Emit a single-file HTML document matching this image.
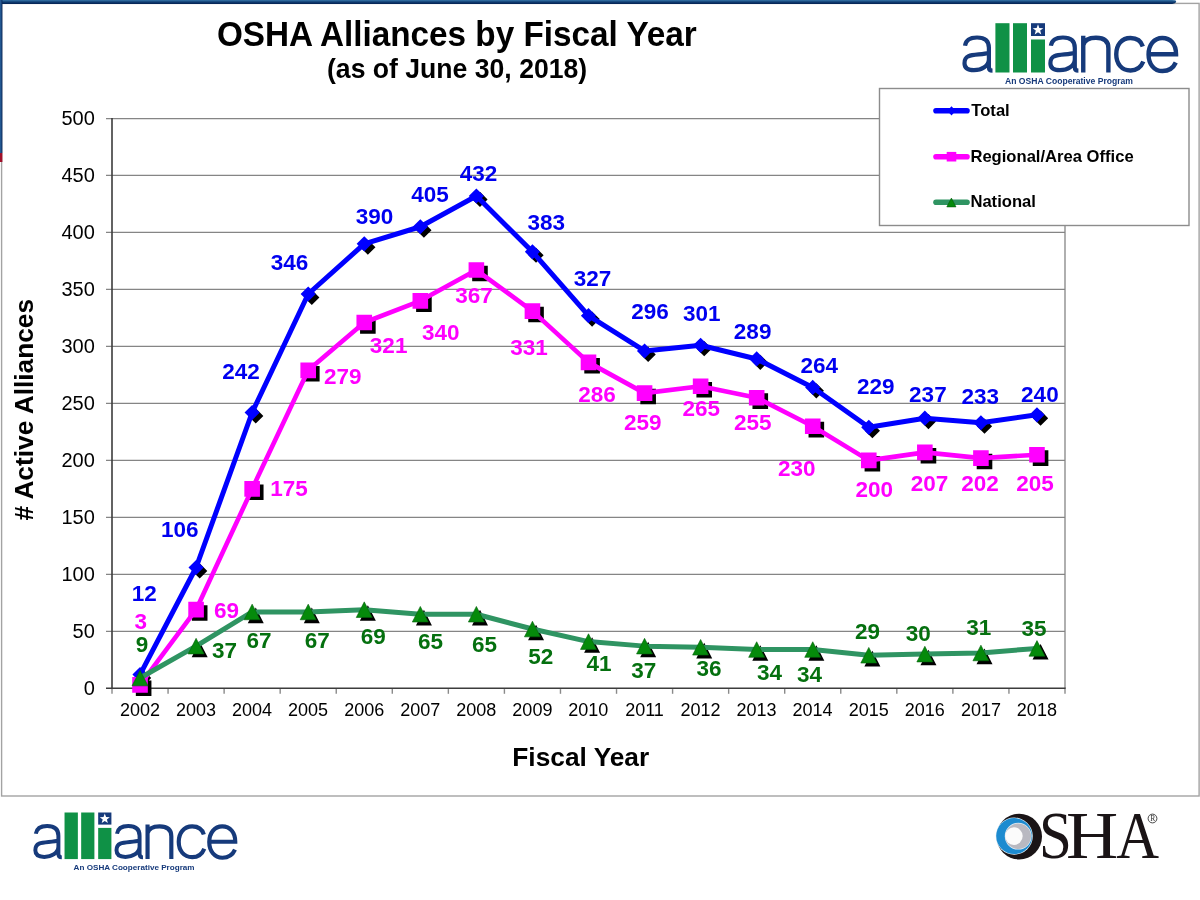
<!DOCTYPE html>
<html><head><meta charset="utf-8"><title>OSHA Alliances by Fiscal Year</title>
<style>html,body{margin:0;padding:0;background:#fff;}body{width:1200px;height:900px;overflow:hidden;font-family:"Liberation Sans",sans-serif;}svg{display:block;will-change:transform;}</style>
</head><body>
<svg width="1200" height="900" viewBox="0 0 1200 900">
<rect width="1200" height="900" fill="#fff"/>
<rect x="1.6" y="3.4" width="1197.5" height="792.6" fill="none" stroke="#a3a3a3" stroke-width="1.4"/>
<defs><linearGradient id="tb" x1="0" y1="0" x2="0" y2="1"><stop offset="0" stop-color="#3877aa"/><stop offset="0.5" stop-color="#0f3d72"/><stop offset="1" stop-color="#04204f"/></linearGradient><linearGradient id="lb" x1="0" y1="0" x2="1" y2="0"><stop offset="0" stop-color="#2a64a0"/><stop offset="1" stop-color="#0b2a5c"/></linearGradient></defs>
<path d="M0,0 H1172 Q1177,0 1176,2 Q1175,4.1 1170,4.1 H0 Z" fill="url(#tb)"/>
<rect x="0" y="0" width="2.4" height="153" fill="url(#lb)"/>
<rect x="0" y="153" width="2.4" height="9" fill="#a0102a"/>
<text transform="translate(216.97,45.9) scale(1,1.05)" font-family="Liberation Sans" font-weight="bold" font-size="33.3" fill="#000">OSHA Alliances by Fiscal Year</text>
<text transform="translate(327.01,78.0) scale(1,1.05)" font-family="Liberation Sans" font-weight="bold" font-size="26.6" fill="#000">(as of June 30, 2018)</text>
<line x1="106" y1="631.32" x2="1065" y2="631.32" stroke="#858585" stroke-width="1.25"/>
<line x1="106" y1="574.34" x2="1065" y2="574.34" stroke="#858585" stroke-width="1.25"/>
<line x1="106" y1="517.36" x2="1065" y2="517.36" stroke="#858585" stroke-width="1.25"/>
<line x1="106" y1="460.38" x2="1065" y2="460.38" stroke="#858585" stroke-width="1.25"/>
<line x1="106" y1="403.4" x2="1065" y2="403.4" stroke="#858585" stroke-width="1.25"/>
<line x1="106" y1="346.42" x2="1065" y2="346.42" stroke="#858585" stroke-width="1.25"/>
<line x1="106" y1="289.44" x2="1065" y2="289.44" stroke="#858585" stroke-width="1.25"/>
<line x1="106" y1="232.46" x2="1065" y2="232.46" stroke="#858585" stroke-width="1.25"/>
<line x1="106" y1="175.48" x2="1065" y2="175.48" stroke="#858585" stroke-width="1.25"/>
<line x1="106" y1="118.5" x2="1065" y2="118.5" stroke="#858585" stroke-width="1.25"/>
<line x1="1065" y1="118.5" x2="1065" y2="688.3" stroke="#858585" stroke-width="1.3"/>
<line x1="112" y1="117.9" x2="112" y2="689.1" stroke="#3c3c3c" stroke-width="1.6"/>
<line x1="106" y1="688.3" x2="1065.75" y2="688.3" stroke="#3c3c3c" stroke-width="1.6"/>
<line x1="112" y1="689.1" x2="112" y2="693.8" stroke="#8a8a8a" stroke-width="1.4"/>
<line x1="168.06" y1="689.1" x2="168.06" y2="693.8" stroke="#8a8a8a" stroke-width="1.4"/>
<line x1="224.12" y1="689.1" x2="224.12" y2="693.8" stroke="#8a8a8a" stroke-width="1.4"/>
<line x1="280.18" y1="689.1" x2="280.18" y2="693.8" stroke="#8a8a8a" stroke-width="1.4"/>
<line x1="336.24" y1="689.1" x2="336.24" y2="693.8" stroke="#8a8a8a" stroke-width="1.4"/>
<line x1="392.29" y1="689.1" x2="392.29" y2="693.8" stroke="#8a8a8a" stroke-width="1.4"/>
<line x1="448.35" y1="689.1" x2="448.35" y2="693.8" stroke="#8a8a8a" stroke-width="1.4"/>
<line x1="504.41" y1="689.1" x2="504.41" y2="693.8" stroke="#8a8a8a" stroke-width="1.4"/>
<line x1="560.47" y1="689.1" x2="560.47" y2="693.8" stroke="#8a8a8a" stroke-width="1.4"/>
<line x1="616.53" y1="689.1" x2="616.53" y2="693.8" stroke="#8a8a8a" stroke-width="1.4"/>
<line x1="672.59" y1="689.1" x2="672.59" y2="693.8" stroke="#8a8a8a" stroke-width="1.4"/>
<line x1="728.65" y1="689.1" x2="728.65" y2="693.8" stroke="#8a8a8a" stroke-width="1.4"/>
<line x1="784.71" y1="689.1" x2="784.71" y2="693.8" stroke="#8a8a8a" stroke-width="1.4"/>
<line x1="840.76" y1="689.1" x2="840.76" y2="693.8" stroke="#8a8a8a" stroke-width="1.4"/>
<line x1="896.82" y1="689.1" x2="896.82" y2="693.8" stroke="#8a8a8a" stroke-width="1.4"/>
<line x1="952.88" y1="689.1" x2="952.88" y2="693.8" stroke="#8a8a8a" stroke-width="1.4"/>
<line x1="1008.94" y1="689.1" x2="1008.94" y2="693.8" stroke="#8a8a8a" stroke-width="1.4"/>
<line x1="1065" y1="689.1" x2="1065" y2="693.8" stroke="#8a8a8a" stroke-width="1.4"/>
<text x="83.7" y="694.6" font-family="Liberation Sans" font-size="20" fill="#000">0</text>
<text x="72.6" y="637.62" font-family="Liberation Sans" font-size="20" fill="#000">50</text>
<text x="61.5" y="580.64" font-family="Liberation Sans" font-size="20" fill="#000">100</text>
<text x="61.5" y="523.66" font-family="Liberation Sans" font-size="20" fill="#000">150</text>
<text x="61.5" y="466.68" font-family="Liberation Sans" font-size="20" fill="#000">200</text>
<text x="61.5" y="409.7" font-family="Liberation Sans" font-size="20" fill="#000">250</text>
<text x="61.5" y="352.72" font-family="Liberation Sans" font-size="20" fill="#000">300</text>
<text x="61.5" y="295.74" font-family="Liberation Sans" font-size="20" fill="#000">350</text>
<text x="61.5" y="238.76" font-family="Liberation Sans" font-size="20" fill="#000">400</text>
<text x="61.5" y="181.78" font-family="Liberation Sans" font-size="20" fill="#000">450</text>
<text x="61.5" y="124.8" font-family="Liberation Sans" font-size="20" fill="#000">500</text>
<text x="120" y="715.5" font-family="Liberation Sans" font-size="18" fill="#000">2002</text>
<text x="175.97" y="715.5" font-family="Liberation Sans" font-size="18" fill="#000">2003</text>
<text x="231.94" y="715.5" font-family="Liberation Sans" font-size="18" fill="#000">2004</text>
<text x="288.09" y="715.5" font-family="Liberation Sans" font-size="18" fill="#000">2005</text>
<text x="344.15" y="715.5" font-family="Liberation Sans" font-size="18" fill="#000">2006</text>
<text x="400.3" y="715.5" font-family="Liberation Sans" font-size="18" fill="#000">2007</text>
<text x="456.27" y="715.5" font-family="Liberation Sans" font-size="18" fill="#000">2008</text>
<text x="512.37" y="715.5" font-family="Liberation Sans" font-size="18" fill="#000">2009</text>
<text x="568.34" y="715.5" font-family="Liberation Sans" font-size="18" fill="#000">2010</text>
<text x="625.16" y="715.5" font-family="Liberation Sans" font-size="18" fill="#000">2011</text>
<text x="680.59" y="715.5" font-family="Liberation Sans" font-size="18" fill="#000">2012</text>
<text x="736.56" y="715.5" font-family="Liberation Sans" font-size="18" fill="#000">2013</text>
<text x="792.53" y="715.5" font-family="Liberation Sans" font-size="18" fill="#000">2014</text>
<text x="848.68" y="715.5" font-family="Liberation Sans" font-size="18" fill="#000">2015</text>
<text x="904.74" y="715.5" font-family="Liberation Sans" font-size="18" fill="#000">2016</text>
<text x="960.89" y="715.5" font-family="Liberation Sans" font-size="18" fill="#000">2017</text>
<text x="1016.86" y="715.5" font-family="Liberation Sans" font-size="18" fill="#000">2018</text>
<text x="512.28" y="765.7" font-family="Liberation Sans" font-weight="bold" font-size="26.3" fill="#000">Fiscal Year</text>
<text transform="translate(33.2,520.58) rotate(-90)" x="0" y="0" font-family="Liberation Sans" font-weight="bold" font-size="26.3" fill="#000"># Active Alliances</text>
<path d="M143.63,670.42 L151.23,678.02 L143.63,685.62 L136.03,678.02 Z M199.69,563.3 L207.29,570.9 L199.69,578.5 L192.09,570.9 Z M255.75,408.32 L263.35,415.92 L255.75,423.52 L248.15,415.92 Z M311.81,289.8 L319.41,297.4 L311.81,305 L304.21,297.4 Z M367.86,239.66 L375.46,247.26 L367.86,254.86 L360.26,247.26 Z M423.92,222.56 L431.52,230.16 L423.92,237.76 L416.32,230.16 Z M479.98,191.79 L487.58,199.39 L479.98,206.99 L472.38,199.39 Z M536.04,247.63 L543.64,255.23 L536.04,262.83 L528.44,255.23 Z M592.1,311.45 L599.7,319.05 L592.1,326.65 L584.5,319.05 Z M648.16,346.78 L655.76,354.38 L648.16,361.98 L640.56,354.38 Z M704.22,341.08 L711.82,348.68 L704.22,356.28 L696.62,348.68 Z M760.28,354.76 L767.88,362.36 L760.28,369.96 L752.68,362.36 Z M816.34,383.25 L823.94,390.85 L816.34,398.45 L808.74,390.85 Z M872.39,423.13 L879.99,430.73 L872.39,438.33 L864.79,430.73 Z M928.45,414.01 L936.05,421.61 L928.45,429.21 L920.85,421.61 Z M984.51,418.57 L992.11,426.17 L984.51,433.77 L976.91,426.17 Z M1040.57,410.6 L1048.17,418.2 L1040.57,425.8 L1032.97,418.2 Z M135.83,680.48 H151.43 V696.08 H135.83 Z M191.89,605.27 H207.49 V620.87 H191.89 Z M247.95,484.47 H263.55 V500.07 H247.95 Z M304.01,365.95 H319.61 V381.55 H304.01 Z M360.06,318.09 H375.66 V333.69 H360.06 Z M416.12,296.44 H431.72 V312.04 H416.12 Z M472.18,265.67 H487.78 V281.27 H472.18 Z M528.24,306.69 H543.84 V322.29 H528.24 Z M584.3,357.97 H599.9 V373.57 H584.3 Z M640.36,388.74 H655.96 V404.34 H640.36 Z M696.42,381.91 H712.02 V397.51 H696.42 Z M752.48,393.3 H768.08 V408.9 H752.48 Z M808.54,421.79 H824.14 V437.39 H808.54 Z M864.59,455.98 H880.19 V471.58 H864.59 Z M920.65,448 H936.25 V463.6 H920.65 Z M976.71,453.7 H992.31 V469.3 H976.71 Z M1032.77,450.28 H1048.37 V465.88 H1032.77 Z M143.63,673.64 L151.63,689.24 L135.63,689.24 Z M199.69,641.73 L207.69,657.33 L191.69,657.33 Z M255.75,607.55 L263.75,623.15 L247.75,623.15 Z M311.81,607.55 L319.81,623.15 L303.81,623.15 Z M367.86,605.27 L375.86,620.87 L359.86,620.87 Z M423.92,609.83 L431.92,625.43 L415.92,625.43 Z M479.98,609.83 L487.98,625.43 L471.98,625.43 Z M536.04,624.64 L544.04,640.24 L528.04,640.24 Z M592.1,637.18 L600.1,652.78 L584.1,652.78 Z M648.16,641.73 L656.16,657.33 L640.16,657.33 Z M704.22,642.87 L712.22,658.47 L696.22,658.47 Z M760.28,645.15 L768.28,660.75 L752.28,660.75 Z M816.34,645.15 L824.34,660.75 L808.34,660.75 Z M872.39,650.85 L880.39,666.45 L864.39,666.45 Z M928.45,649.71 L936.45,665.31 L920.45,665.31 Z M984.51,648.57 L992.51,664.17 L976.51,664.17 Z M1040.57,644.01 L1048.57,659.61 L1032.57,659.61 Z" fill="#000"/>
<polyline points="140.03,674.62 196.09,567.5 252.15,412.52 308.21,294 364.26,243.86 420.32,226.76 476.38,195.99 532.44,251.83 588.5,315.65 644.56,350.98 700.62,345.28 756.68,358.96 812.74,387.45 868.79,427.33 924.85,418.21 980.91,422.77 1036.97,414.8" fill="none" stroke="#0000ff" stroke-width="5" stroke-linejoin="round"/>
<path d="M140.03,667.02 L147.63,674.62 L140.03,682.22 L132.43,674.62 Z M196.09,559.9 L203.69,567.5 L196.09,575.1 L188.49,567.5 Z M252.15,404.92 L259.75,412.52 L252.15,420.12 L244.55,412.52 Z M308.21,286.4 L315.81,294 L308.21,301.6 L300.61,294 Z M364.26,236.26 L371.86,243.86 L364.26,251.46 L356.66,243.86 Z M420.32,219.16 L427.92,226.76 L420.32,234.36 L412.72,226.76 Z M476.38,188.39 L483.98,195.99 L476.38,203.59 L468.78,195.99 Z M532.44,244.23 L540.04,251.83 L532.44,259.43 L524.84,251.83 Z M588.5,308.05 L596.1,315.65 L588.5,323.25 L580.9,315.65 Z M644.56,343.38 L652.16,350.98 L644.56,358.58 L636.96,350.98 Z M700.62,337.68 L708.22,345.28 L700.62,352.88 L693.02,345.28 Z M756.68,351.36 L764.28,358.96 L756.68,366.56 L749.08,358.96 Z M812.74,379.85 L820.34,387.45 L812.74,395.05 L805.14,387.45 Z M868.79,419.73 L876.39,427.33 L868.79,434.93 L861.19,427.33 Z M924.85,410.61 L932.45,418.21 L924.85,425.81 L917.25,418.21 Z M980.91,415.17 L988.51,422.77 L980.91,430.37 L973.31,422.77 Z M1036.97,407.2 L1044.57,414.8 L1036.97,422.4 L1029.37,414.8 Z" fill="#0000ff"/>
<polyline points="140.03,684.88 196.09,609.67 252.15,488.87 308.21,370.35 364.26,322.49 420.32,300.84 476.38,270.07 532.44,311.09 588.5,362.37 644.56,393.14 700.62,386.31 756.68,397.7 812.74,426.19 868.79,460.38 924.85,452.4 980.91,458.1 1036.97,454.68" fill="none" stroke="#ff00ff" stroke-width="4.6" stroke-linejoin="round"/>
<path d="M132.23,677.08 H147.83 V692.68 H132.23 Z M188.29,601.87 H203.89 V617.47 H188.29 Z M244.35,481.07 H259.95 V496.67 H244.35 Z M300.41,362.55 H316.01 V378.15 H300.41 Z M356.46,314.69 H372.06 V330.29 H356.46 Z M412.52,293.04 H428.12 V308.64 H412.52 Z M468.58,262.27 H484.18 V277.87 H468.58 Z M524.64,303.29 H540.24 V318.89 H524.64 Z M580.7,354.57 H596.3 V370.17 H580.7 Z M636.76,385.34 H652.36 V400.94 H636.76 Z M692.82,378.51 H708.42 V394.11 H692.82 Z M748.88,389.9 H764.48 V405.5 H748.88 Z M804.94,418.39 H820.54 V433.99 H804.94 Z M860.99,452.58 H876.59 V468.18 H860.99 Z M917.05,444.6 H932.65 V460.2 H917.05 Z M973.11,450.3 H988.71 V465.9 H973.11 Z M1029.17,446.88 H1044.77 V462.48 H1029.17 Z" fill="#ff00ff"/>
<polyline points="140.03,678.04 196.09,646.13 252.15,611.95 308.21,611.95 364.26,609.67 420.32,614.23 476.38,614.23 532.44,629.04 588.5,641.58 644.56,646.13 700.62,647.27 756.68,649.55 812.74,649.55 868.79,655.25 924.85,654.11 980.91,652.97 1036.97,648.41" fill="none" stroke="#2f9462" stroke-width="5" stroke-linejoin="round"/>
<path d="M140.03,670.24 L148.03,685.84 L132.03,685.84 Z M196.09,638.33 L204.09,653.93 L188.09,653.93 Z M252.15,604.15 L260.15,619.75 L244.15,619.75 Z M308.21,604.15 L316.21,619.75 L300.21,619.75 Z M364.26,601.87 L372.26,617.47 L356.26,617.47 Z M420.32,606.43 L428.32,622.03 L412.32,622.03 Z M476.38,606.43 L484.38,622.03 L468.38,622.03 Z M532.44,621.24 L540.44,636.84 L524.44,636.84 Z M588.5,633.78 L596.5,649.38 L580.5,649.38 Z M644.56,638.33 L652.56,653.93 L636.56,653.93 Z M700.62,639.47 L708.62,655.07 L692.62,655.07 Z M756.68,641.75 L764.68,657.35 L748.68,657.35 Z M812.74,641.75 L820.74,657.35 L804.74,657.35 Z M868.79,647.45 L876.79,663.05 L860.79,663.05 Z M924.85,646.31 L932.85,661.91 L916.85,661.91 Z M980.91,645.17 L988.91,660.77 L972.91,660.77 Z M1036.97,640.61 L1044.97,656.21 L1028.97,656.21 Z" fill="#058a0b" stroke="#04600a" stroke-width="0.6"/>
<text x="131.79" y="600.73" font-family="Liberation Sans" font-weight="bold" font-size="22.5" fill="#0000f0">12</text>
<text x="160.91" y="537.39" font-family="Liberation Sans" font-weight="bold" font-size="22.5" fill="#0000f0">106</text>
<text x="222.32" y="379.4" font-family="Liberation Sans" font-weight="bold" font-size="22.5" fill="#0000f0">242</text>
<text x="270.63" y="270.24" font-family="Liberation Sans" font-weight="bold" font-size="22.5" fill="#0000f0">346</text>
<text x="355.64" y="223.76" font-family="Liberation Sans" font-weight="bold" font-size="22.5" fill="#0000f0">390</text>
<text x="411.23" y="201.61" font-family="Liberation Sans" font-weight="bold" font-size="22.5" fill="#0000f0">405</text>
<text x="459.68" y="180.76" font-family="Liberation Sans" font-weight="bold" font-size="22.5" fill="#0000f0">432</text>
<text x="527.53" y="229.51" font-family="Liberation Sans" font-weight="bold" font-size="22.5" fill="#0000f0">383</text>
<text x="573.74" y="285.51" font-family="Liberation Sans" font-weight="bold" font-size="22.5" fill="#0000f0">327</text>
<text x="631.17" y="319.06" font-family="Liberation Sans" font-weight="bold" font-size="22.5" fill="#0000f0">296</text>
<text x="682.92" y="320.66" font-family="Liberation Sans" font-weight="bold" font-size="22.5" fill="#0000f0">301</text>
<text x="733.87" y="339.16" font-family="Liberation Sans" font-weight="bold" font-size="22.5" fill="#0000f0">289</text>
<text x="800.53" y="372.86" font-family="Liberation Sans" font-weight="bold" font-size="22.5" fill="#0000f0">264</text>
<text x="856.97" y="394.26" font-family="Liberation Sans" font-weight="bold" font-size="22.5" fill="#0000f0">229</text>
<text x="909.12" y="402.46" font-family="Liberation Sans" font-weight="bold" font-size="22.5" fill="#0000f0">237</text>
<text x="961.57" y="404.46" font-family="Liberation Sans" font-weight="bold" font-size="22.5" fill="#0000f0">233</text>
<text x="1021.12" y="402.06" font-family="Liberation Sans" font-weight="bold" font-size="22.5" fill="#0000f0">240</text>
<text x="134.52" y="628.61" font-family="Liberation Sans" font-weight="bold" font-size="22.5" fill="#ff00ff">3</text>
<text x="214.01" y="618.36" font-family="Liberation Sans" font-weight="bold" font-size="22.5" fill="#ff00ff">69</text>
<text x="270.33" y="496.35" font-family="Liberation Sans" font-weight="bold" font-size="22.5" fill="#ff00ff">175</text>
<text x="323.89" y="383.86" font-family="Liberation Sans" font-weight="bold" font-size="22.5" fill="#ff00ff">279</text>
<text x="369.87" y="353.21" font-family="Liberation Sans" font-weight="bold" font-size="22.5" fill="#ff00ff">321</text>
<text x="421.94" y="340.01" font-family="Liberation Sans" font-weight="bold" font-size="22.5" fill="#ff00ff">340</text>
<text x="455.29" y="302.51" font-family="Liberation Sans" font-weight="bold" font-size="22.5" fill="#ff00ff">367</text>
<text x="510.27" y="355.36" font-family="Liberation Sans" font-weight="bold" font-size="22.5" fill="#ff00ff">331</text>
<text x="578.27" y="401.91" font-family="Liberation Sans" font-weight="bold" font-size="22.5" fill="#ff00ff">286</text>
<text x="624.02" y="430.16" font-family="Liberation Sans" font-weight="bold" font-size="22.5" fill="#ff00ff">259</text>
<text x="682.46" y="416.26" font-family="Liberation Sans" font-weight="bold" font-size="22.5" fill="#ff00ff">265</text>
<text x="734.01" y="430.16" font-family="Liberation Sans" font-weight="bold" font-size="22.5" fill="#ff00ff">255</text>
<text x="777.92" y="476.11" font-family="Liberation Sans" font-weight="bold" font-size="22.5" fill="#ff00ff">230</text>
<text x="855.53" y="497.26" font-family="Liberation Sans" font-weight="bold" font-size="22.5" fill="#ff00ff">200</text>
<text x="910.83" y="490.76" font-family="Liberation Sans" font-weight="bold" font-size="22.5" fill="#ff00ff">207</text>
<text x="961.33" y="491.06" font-family="Liberation Sans" font-weight="bold" font-size="22.5" fill="#ff00ff">202</text>
<text x="1016.16" y="491.06" font-family="Liberation Sans" font-weight="bold" font-size="22.5" fill="#ff00ff">205</text>
<text x="135.66" y="652.16" font-family="Liberation Sans" font-weight="bold" font-size="22.5" fill="#05700f">9</text>
<text x="211.98" y="658.01" font-family="Liberation Sans" font-weight="bold" font-size="22.5" fill="#05700f">37</text>
<text x="246.42" y="647.51" font-family="Liberation Sans" font-weight="bold" font-size="22.5" fill="#05700f">67</text>
<text x="304.77" y="647.51" font-family="Liberation Sans" font-weight="bold" font-size="22.5" fill="#05700f">67</text>
<text x="360.76" y="644.41" font-family="Liberation Sans" font-weight="bold" font-size="22.5" fill="#05700f">69</text>
<text x="417.9" y="648.56" font-family="Liberation Sans" font-weight="bold" font-size="22.5" fill="#05700f">65</text>
<text x="472.1" y="651.56" font-family="Liberation Sans" font-weight="bold" font-size="22.5" fill="#05700f">65</text>
<text x="528.33" y="663.61" font-family="Liberation Sans" font-weight="bold" font-size="22.5" fill="#05700f">52</text>
<text x="586.62" y="670.76" font-family="Liberation Sans" font-weight="bold" font-size="22.5" fill="#05700f">41</text>
<text x="631.18" y="678.16" font-family="Liberation Sans" font-weight="bold" font-size="22.5" fill="#05700f">37</text>
<text x="696.42" y="676.46" font-family="Liberation Sans" font-weight="bold" font-size="22.5" fill="#05700f">36</text>
<text x="757.09" y="679.76" font-family="Liberation Sans" font-weight="bold" font-size="22.5" fill="#05700f">34</text>
<text x="797.09" y="681.56" font-family="Liberation Sans" font-weight="bold" font-size="22.5" fill="#05700f">34</text>
<text x="855.01" y="639.06" font-family="Liberation Sans" font-weight="bold" font-size="22.5" fill="#05700f">29</text>
<text x="905.68" y="641.16" font-family="Liberation Sans" font-weight="bold" font-size="22.5" fill="#05700f">30</text>
<text x="966.31" y="635.16" font-family="Liberation Sans" font-weight="bold" font-size="22.5" fill="#05700f">31</text>
<text x="1021.51" y="635.76" font-family="Liberation Sans" font-weight="bold" font-size="22.5" fill="#05700f">35</text>
<rect x="879.5" y="88.5" width="309.5" height="137" fill="#fff" stroke="#8c8c8c" stroke-width="1.4"/>
<line x1="936" y1="110.8" x2="967" y2="110.8" stroke="#0000ff" stroke-width="5.6" stroke-linecap="round"/>
<path d="M951.5,106.2 L955.7,110.8 L951.5,115.4 L947.3,110.8 Z" fill="#0000ff"/>
<text x="971.33" y="115.8" font-family="Liberation Sans" font-weight="bold" font-size="16.6" fill="#000">Total</text>
<line x1="936" y1="156.7" x2="967" y2="156.7" stroke="#ff00ff" stroke-width="5.6" stroke-linecap="round"/>
<path d="M946.7,151.9 H956.3 V161.5 H946.7 Z" fill="#ff00ff"/>
<text x="970.42" y="161.7" font-family="Liberation Sans" font-weight="bold" font-size="16.6" fill="#000">Regional/Area Office</text>
<line x1="936" y1="202.3" x2="967" y2="202.3" stroke="#2f9462" stroke-width="5.6" stroke-linecap="round"/>
<path d="M951.4,198.1 L956,206.9 L946.8,206.9 Z" fill="#058a0b" stroke="#045a0a" stroke-width="0.6"/>
<text x="970.42" y="207.3" font-family="Liberation Sans" font-weight="bold" font-size="16.6" fill="#000">National</text>
<g transform="translate(961.5,23.2)"><path d="M3.5,22.5 C4.5,16 9,14.3 15.5,14.3 C23,14.3 27.4,17.5 27.4,24.5 V44 C27.4,46.5 28.5,47.5 31,47.5 M27.4,29.5 C22,31.5 12,31 7,33 C3.8,34.4 3,37 3,40 C3,44.5 6.5,47 12.5,47 C20,47 27.4,43 27.4,36" fill="none" stroke="#163a7b" stroke-width="4.2"/><path transform="translate(85.9,0)" d="M3.5,22.5 C4.5,16 9,14.3 15.5,14.3 C23,14.3 27.4,17.5 27.4,24.5 V44 C27.4,46.5 28.5,47.5 31,47.5 M27.4,29.5 C22,31.5 12,31 7,33 C3.8,34.4 3,37 3,40 C3,44.5 6.5,47 12.5,47 C20,47 27.4,43 27.4,36" fill="none" stroke="#163a7b" stroke-width="4.2"/><rect x="33.9" y="0" width="14.1" height="49.3" fill="#0f9146"/><rect x="51.5" y="0" width="14" height="49.3" fill="#0f9146"/><rect x="69.5" y="16.3" width="14" height="33" fill="#0f9146"/><rect x="69.5" y="0" width="14" height="12.8" fill="#163a7b"/><path d="M76.5,1.1 L77.85,4.84 L81.83,4.97 L78.69,7.41 L79.79,11.23 L76.5,9 L73.21,11.23 L74.31,7.41 L71.17,4.97 L75.15,4.84 Z" fill="#fff"/><path d="M121.75,12.6 V49.3 M121.75,22 C123,16.5 128.5,14.6 134.5,14.6 C142.5,14.6 146.9,18 146.9,25 V49.3" fill="none" stroke="#163a7b" stroke-width="4.4"/><path d="M181.3,23.3 C179.5,17.3 175,14.75 169,14.75 C160,14.75 154.75,21.8 154.75,31 C154.75,40.3 160,47.25 169,47.25 C175.5,47.25 179.8,43.3 181.8,38.3" fill="none" stroke="#163a7b" stroke-width="4.4"/><path d="M187.05,31 H214.55 C214.55,20.8 209,14.75 200.8,14.75 C192.5,14.75 187.05,21.8 187.05,31.3 C187.05,40.8 192.5,47.85 201,47.85 C207.5,47.85 212,44.3 214.3,39.3" fill="none" stroke="#163a7b" stroke-width="4.4"/><text x="43.5" y="60.8" font-family="Liberation Sans" font-weight="bold" font-size="8.6" fill="#163a7b" textLength="128" lengthAdjust="spacingAndGlyphs">An OSHA Cooperative Program</text></g>
<g transform="translate(32.5,812.5) scale(0.945)"><path d="M3.5,22.5 C4.5,16 9,14.3 15.5,14.3 C23,14.3 27.4,17.5 27.4,24.5 V44 C27.4,46.5 28.5,47.5 31,47.5 M27.4,29.5 C22,31.5 12,31 7,33 C3.8,34.4 3,37 3,40 C3,44.5 6.5,47 12.5,47 C20,47 27.4,43 27.4,36" fill="none" stroke="#163a7b" stroke-width="4.2"/><path transform="translate(85.9,0)" d="M3.5,22.5 C4.5,16 9,14.3 15.5,14.3 C23,14.3 27.4,17.5 27.4,24.5 V44 C27.4,46.5 28.5,47.5 31,47.5 M27.4,29.5 C22,31.5 12,31 7,33 C3.8,34.4 3,37 3,40 C3,44.5 6.5,47 12.5,47 C20,47 27.4,43 27.4,36" fill="none" stroke="#163a7b" stroke-width="4.2"/><rect x="33.9" y="0" width="14.1" height="49.3" fill="#0f9146"/><rect x="51.5" y="0" width="14" height="49.3" fill="#0f9146"/><rect x="69.5" y="16.3" width="14" height="33" fill="#0f9146"/><rect x="69.5" y="0" width="14" height="12.8" fill="#163a7b"/><path d="M76.5,1.1 L77.85,4.84 L81.83,4.97 L78.69,7.41 L79.79,11.23 L76.5,9 L73.21,11.23 L74.31,7.41 L71.17,4.97 L75.15,4.84 Z" fill="#fff"/><path d="M121.75,12.6 V49.3 M121.75,22 C123,16.5 128.5,14.6 134.5,14.6 C142.5,14.6 146.9,18 146.9,25 V49.3" fill="none" stroke="#163a7b" stroke-width="4.4"/><path d="M181.3,23.3 C179.5,17.3 175,14.75 169,14.75 C160,14.75 154.75,21.8 154.75,31 C154.75,40.3 160,47.25 169,47.25 C175.5,47.25 179.8,43.3 181.8,38.3" fill="none" stroke="#163a7b" stroke-width="4.4"/><path d="M187.05,31 H214.55 C214.55,20.8 209,14.75 200.8,14.75 C192.5,14.75 187.05,21.8 187.05,31.3 C187.05,40.8 192.5,47.85 201,47.85 C207.5,47.85 212,44.3 214.3,39.3" fill="none" stroke="#163a7b" stroke-width="4.4"/><text x="43.5" y="60.8" font-family="Liberation Sans" font-weight="bold" font-size="8.6" fill="#163a7b" textLength="128" lengthAdjust="spacingAndGlyphs">An OSHA Cooperative Program</text></g>
<circle cx="1019.2" cy="836.6" r="22.8" fill="#1a1416"/>
<circle cx="1014.2" cy="836.1" r="18.6" fill="#e8f4fb"/>
<circle cx="1014.2" cy="836.1" r="18" fill="#1d8bd0"/>
<circle cx="1018.2" cy="836.2" r="13.4" fill="#dfeef7"/>
<circle cx="1018.2" cy="836.2" r="12.8" fill="#b9b9c1"/>
<circle cx="1013.9" cy="836.1" r="8.8" fill="#fbfbfb"/>
<text transform="translate(1038.96,858.4) scale(0.886,1)" font-family="Liberation Serif" font-size="66.7" fill="#1a1416">S</text>
<text transform="translate(1066.03,858.4) scale(1.084,1)" font-family="Liberation Serif" font-size="66.7" fill="#1a1416">H</text>
<text transform="translate(1116.21,858.4) scale(0.889,1)" font-family="Liberation Serif" font-size="66.7" fill="#1a1416">A</text>
<circle cx="1152.5" cy="818.5" r="4.4" fill="none" stroke="#333" stroke-width="0.9"/>
<text x="1150.2" y="821.3" font-family="Liberation Serif" font-size="7.5" fill="#333">R</text>
</svg>
</body></html>
